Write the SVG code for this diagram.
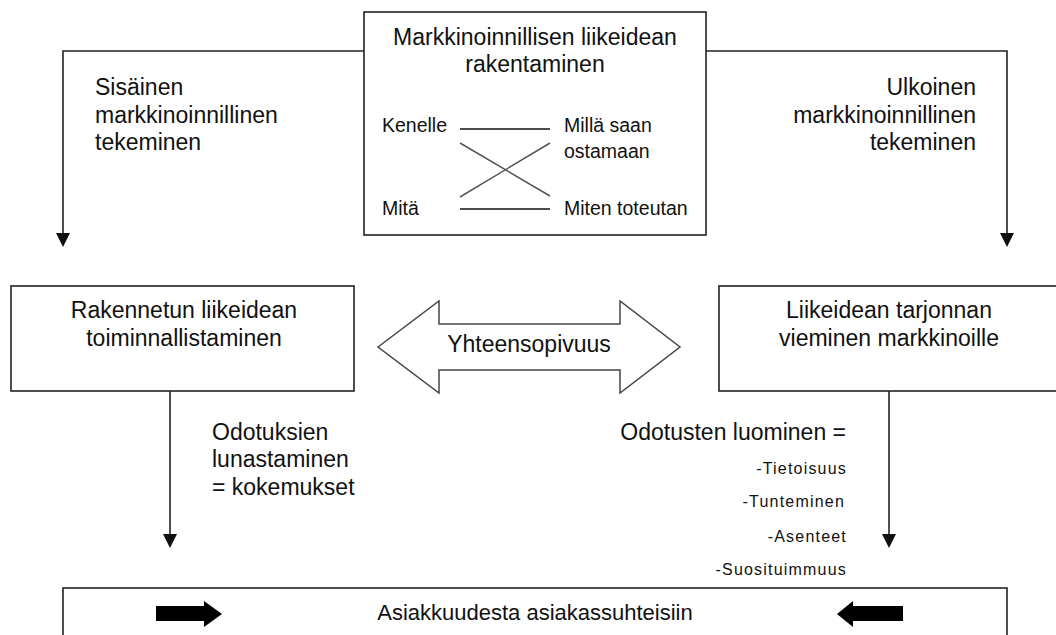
<svg xmlns="http://www.w3.org/2000/svg" width="1056" height="635" viewBox="0 0 1056 635">
<defs>
<style>
.box{fill:#fff;stroke:#222;stroke-width:1.6}
.ln{fill:none;stroke:#222;stroke-width:1.6}
.t{font-family:"Liberation Sans",Arial,sans-serif;font-size:23px;fill:#111}
.s{font-family:"Liberation Sans",Arial,sans-serif;font-size:19.5px;fill:#111}
.sm{font-family:"Liberation Sans",Arial,sans-serif;font-size:16px;letter-spacing:1.2px;fill:#111}
.x{stroke:#555;stroke-width:1.5}
</style>
</defs>
<rect width="1056" height="635" fill="#fff"/>
<g id="connectors">
<path class="ln" d="M364,51 H63 V233"/>
<path d="M56,233 L70,233 L63,247 Z" fill="#111"/>
<path class="ln" d="M706,51 H1007 V233"/>
<path d="M1000,233 L1014,233 L1007,247 Z" fill="#111"/>
<path class="ln" d="M170,391 V534"/>
<path d="M163,534 L177,534 L170,548 Z" fill="#111"/>
<path class="ln" d="M889,391 V534"/>
<path d="M882,534 L896,534 L889,548 Z" fill="#111"/>
</g>
<g id="labels">
<text class="t" x="95" y="95">Sisäinen</text>
<text class="t" x="95" y="123">markkinoinnillinen</text>
<text class="t" x="95" y="150">tekeminen</text>
<text class="t" x="976" y="95" text-anchor="end">Ulkoinen</text>
<text class="t" x="976" y="123" text-anchor="end">markkinoinnillinen</text>
<text class="t" x="976" y="150" text-anchor="end">tekeminen</text>
<text class="t" x="212" y="440">Odotuksien</text>
<text class="t" x="212" y="467">lunastaminen</text>
<text class="t" x="212" y="495">= kokemukset</text>
<text class="t" x="846" y="440" text-anchor="end">Odotusten luominen =</text>
<text class="sm" x="847" y="474" text-anchor="end">-Tietoisuus</text>
<text class="sm" x="845" y="507" text-anchor="end">-Tunteminen</text>
<text class="sm" x="847" y="542" text-anchor="end">-Asenteet</text>
<text class="sm" x="847" y="575" text-anchor="end">-Suosituimmuus</text>
</g>
<g id="node-top">
<rect class="box" x="364" y="12" width="342" height="223"/>
<text class="t" x="535" y="45" text-anchor="middle">Markkinoinnillisen liikeidean</text>
<text class="t" x="535" y="72" text-anchor="middle">rakentaminen</text>
<text class="s" x="382" y="132">Kenelle</text>
<text class="s" x="564" y="132">Millä saan</text>
<text class="s" x="564" y="158">ostamaan</text>
<text class="s" x="382" y="215">Mitä</text>
<text class="s" x="564" y="215">Miten toteutan</text>
<line x1="460" y1="129" x2="550" y2="129" stroke="#111" stroke-width="1.5"/>
<line x1="460" y1="209" x2="550" y2="209" stroke="#111" stroke-width="1.5"/>
<line class="x" x1="460" y1="143" x2="550" y2="196"/>
<line class="x" x1="460" y1="197" x2="550" y2="143"/>
</g>
<g id="node-left">
<rect class="box" x="11" y="286" width="343" height="105"/>
<text class="t" x="184" y="318" text-anchor="middle">Rakennetun liikeidean</text>
<text class="t" x="184" y="346" text-anchor="middle">toiminnallistaminen</text>
</g>
<g id="node-right">
<rect class="box" x="719" y="286" width="345" height="105"/>
<text class="t" x="889" y="318" text-anchor="middle">Liikeidean tarjonnan</text>
<text class="t" x="889" y="346" text-anchor="middle">vieminen markkinoille</text>
</g>
<g id="node-arrow">
<path d="M378,347 L439,301 L439,324 L620,324 L620,301 L680,347 L620,393 L620,370 L439,370 L439,393 Z" fill="#fff" stroke="#444" stroke-width="1.5"/>
<text class="t" x="529" y="352" text-anchor="middle">Yhteensopivuus</text>
</g>
<g id="node-bottom">
<rect class="box" x="63" y="588" width="944" height="60"/>
<text class="t" x="535" y="620" text-anchor="middle" style="font-size:22px">Asiakkuudesta asiakassuhteisiin</text>
<path d="M156,606 H204 V601 L222,614 L204,627 V621 H156 Z" fill="#000"/>
<path d="M903,606 H853 V601 L837,614 L853,627 V621 H903 Z" fill="#000"/>
</g>
</svg>
